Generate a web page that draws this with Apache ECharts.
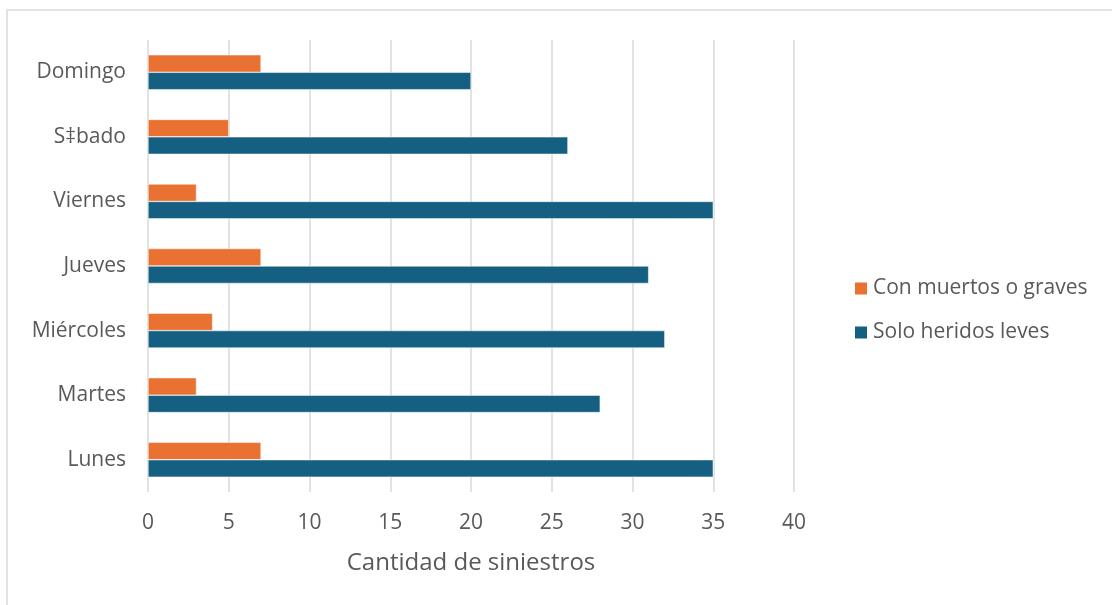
<!DOCTYPE html>
<html>
<head>
<meta charset="utf-8">
<script src="https://cdn.jsdelivr.net/npm/echarts@6/dist/echarts.min.js"></script>
<style>
  html, body { margin: 0; padding: 0; background: #fff; }
  #chart { width: 1112px; height: 605px; }
</style>
</head>
<body>
<div id="chart"></div>
<script>
// Days of the week, listed from the bottom row upward
const days = ['Lunes', 'Martes', 'Miércoles', 'Jueves', 'Viernes', 'S‡bado', 'Domingo'];
// Accidents with fatalities or serious injuries
const graves = [7, 3, 4, 7, 3, 5, 7];
// Accidents with only minor injuries
const leves = [35, 28, 32, 31, 35, 26, 20];
const seriesNames = ['Con muertos o graves', 'Solo heridos leves'];
const axisTitle = 'Cantidad de siniestros';

const FONT = '"Open Sans", "Noto Sans", sans-serif';
const TEXT = '#595959';
const GRID = '#d9d9d9';

const chart = echarts.init(document.getElementById('chart'));
chart.setOption({
  animation: false,
  textStyle: { fontFamily: FONT, color: TEXT },
  graphic: [{
    type: 'rect',
    shape: { x: 7, y: 10, width: 1200, height: 700 },
    style: { fill: 'none', stroke: GRID, lineWidth: 1.5 },
    silent: true
  }],
  grid: { left: 148, right: 318, top: 40, bottom: 113 },
  legend: {
    orient: 'vertical',
    left: 848,
    top: 273,
    itemWidth: 14,
    itemHeight: 14,
    itemGap: 23,
    icon: 'rect',
    data: seriesNames,
    textStyle: { fontFamily: FONT, fontSize: 21, color: TEXT }
  },
  xAxis: {
    type: 'value',
    min: 0,
    max: 40,
    interval: 5,
    name: axisTitle,
    nameLocation: 'middle',
    nameGap: 59,
    nameTextStyle: { fontFamily: FONT, fontSize: 24, color: TEXT },
    axisLine: { show: false },
    axisTick: { show: false },
    axisLabel: { margin: 21, fontFamily: FONT, fontSize: 21, color: TEXT },
    splitLine: { show: true, lineStyle: { color: GRID, width: 1.5 } }
  },
  yAxis: {
    type: 'category',
    data: days,
    axisLine: { show: false },
    axisTick: { show: false },
    axisLabel: { margin: 22, fontFamily: FONT, fontSize: 21, color: TEXT }
  },
  series: [
    {
      name: seriesNames[0],
      type: 'bar',
      data: graves,
      barGap: '0%',
      barCategoryGap: '46%',
      itemStyle: { color: '#e97132', borderColor: '#ffffff', borderWidth: 0.5 }
    },
    {
      name: seriesNames[1],
      type: 'bar',
      data: leves,
      barGap: '0%',
      barCategoryGap: '46%',
      itemStyle: { color: '#156082', borderColor: '#ffffff', borderWidth: 0.5 }
    }
  ]
});
</script>
</body>
</html>
